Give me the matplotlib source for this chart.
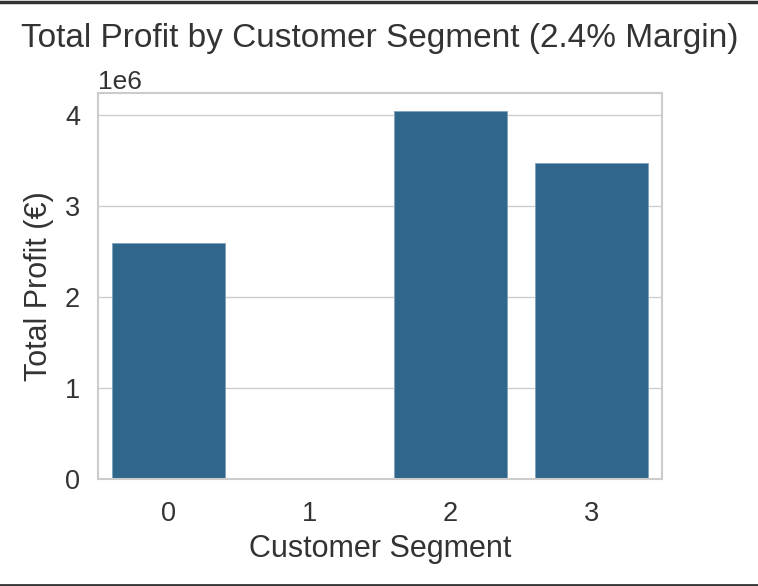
import matplotlib
matplotlib.use("Agg")
import matplotlib.pyplot as plt
import seaborn as sns
import numpy as np

segments = ["0", "1", "2", "3"]
profits = [2.59e6, 0.0, 4.04e6, 3.47e6]

sns.set_theme(style="whitegrid")
plt.rcParams['font.family'] = ['Liberation Sans', 'DejaVu Sans']

fig = plt.figure(figsize=(7.58, 5.86), dpi=100)
ax = fig.add_axes([98/758, 1-479/586, (662-98)/758, (479-93)/586])
x = np.arange(len(segments))
ax.bar(x, profits, width=0.8, color="#30668c", edgecolor="#7fa3bc", linewidth=0.6)
ax.set_xticks(x)
ax.set_xticklabels(segments)
ax.set_xlim(-0.5, 3.5)
ax.set_ylim(0, 4.24e6)
ax.set_yticks([0, 1e6, 2e6, 3e6, 4e6])
ax.xaxis.grid(False)
ax.tick_params(labelsize=19.5, colors="#333333", pad=7)
ax.tick_params(axis="x", pad=10)
ax.yaxis.get_offset_text().set_fontsize(19)
ax.yaxis.get_offset_text().set_color("#333333")
ax.set_xlabel("Customer Segment", fontsize=22, color="#333333", labelpad=5)
ax.set_ylabel("Total Profit (€)", fontsize=22, color="#333333", labelpad=8)
ax.set_title("Total Profit by Customer Segment (2.4% Margin)", fontsize=24, color="#333333", pad=33)
for s in ax.spines.values():
    s.set_color("#cccccc")
    s.set_linewidth(1.5)

# screenshot dark border lines
fig.add_artist(plt.Line2D([0, 1], [1 - 1.5/586, 1 - 1.5/586], color="#333333", lw=2.5, transform=fig.transFigure))
fig.add_artist(plt.Line2D([0, 1], [1/586, 1/586], color="#333333", lw=2, transform=fig.transFigure))

fig.savefig("out.png", dpi=100)
